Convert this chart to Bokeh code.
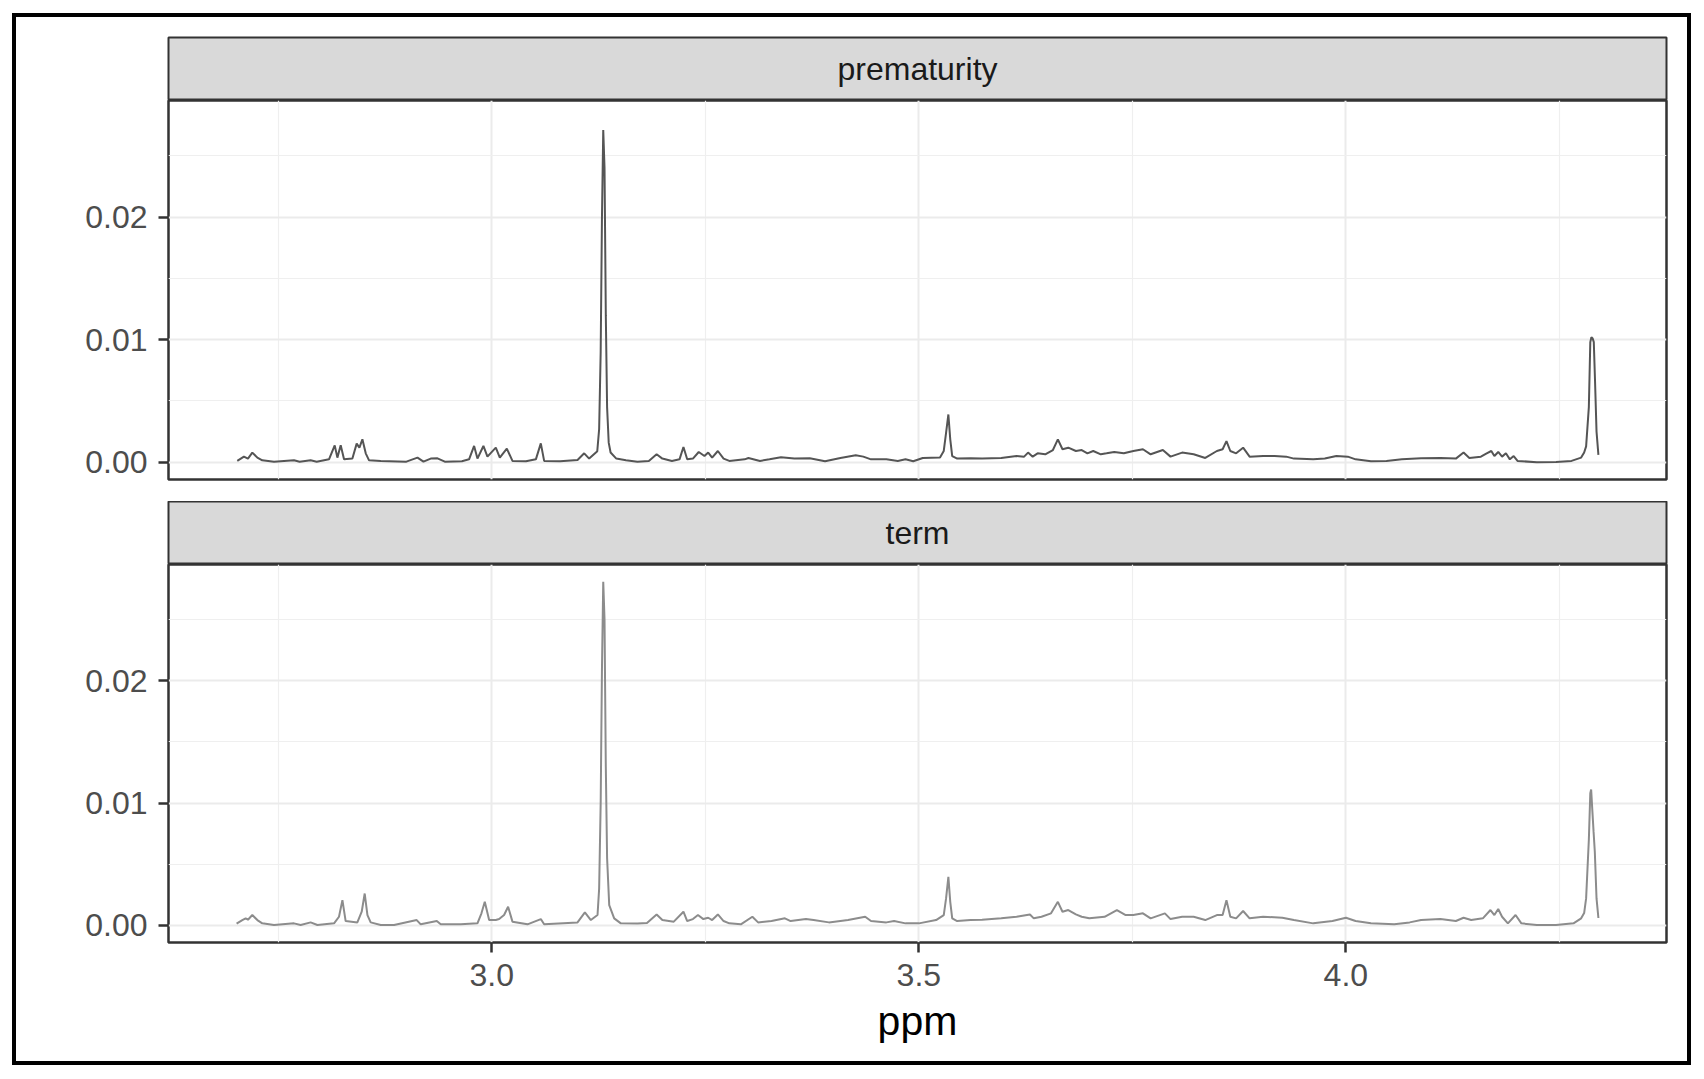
from bokeh.plotting import figure
from bokeh.layouts import column
from bokeh.models import Range1d, FixedTicker, NumeralTickFormatter
from bokeh.core.properties import value
from bokeh.embed import file_html
from bokeh.resources import INLINE

# ---------------- data ----------------
PANELS = ["prematurity", "term"]

PRE_PPM = [2.7020, 2.7098, 2.7145, 2.7196, 2.7255, 2.7313, 2.7450, 2.7684, 2.7750, 2.7879,
           2.7950, 2.8094, 2.8161, 2.8192, 2.8231, 2.8270, 2.8368, 2.8418, 2.8450, 2.8485,
           2.8524, 2.8563, 2.8700, 2.9000, 2.9130, 2.9200, 2.9285, 2.9364, 2.9450, 2.9650,
           2.9734, 2.9793, 2.9832, 2.9902, 2.9949, 3.0047, 3.0094, 3.0176, 3.0242, 3.0400,
           3.0516, 3.0574, 3.0613, 3.0800, 3.1004, 3.1082, 3.1140, 3.1219, 3.1235, 3.1257,
           3.1275, 3.1290, 3.1305, 3.1320, 3.1335, 3.1350, 3.1369, 3.1391, 3.1458, 3.1571,
           3.1705, 3.1839, 3.1930, 3.1997, 3.2109, 3.2198, 3.2244, 3.2288, 3.2355, 3.2423,
           3.2490, 3.2534, 3.2580, 3.2647, 3.2714, 3.2781, 3.2961, 3.3005, 3.3140, 3.3252,
           3.3386, 3.3543, 3.3723, 3.3902, 3.4082, 3.4261, 3.4350, 3.4440, 3.4620, 3.4754,
           3.4844, 3.4934, 3.5046, 3.5248, 3.5292, 3.5319, 3.5346, 3.5368, 3.5391, 3.5449,
           3.5606, 3.5741, 3.5965, 3.6144, 3.6233, 3.6279, 3.6333, 3.6391, 3.6480, 3.6570,
           3.6628, 3.6682, 3.6750, 3.6839, 3.6907, 3.6974, 3.7042, 3.7131, 3.7198, 3.7288,
           3.7400, 3.7512, 3.7624, 3.7714, 3.7857, 3.7947, 3.8083, 3.8218, 3.8354, 3.8490,
           3.8557, 3.8602, 3.8647, 3.8715, 3.8797, 3.8873, 3.9031, 3.9166, 3.9302, 3.9392,
           3.9618, 3.9753, 3.9889, 4.0023, 4.0114, 4.0294, 4.0475, 4.0656, 4.0881, 4.1107,
           4.1288, 4.1378, 4.1446, 4.1581, 4.1649, 4.1703, 4.1739, 4.1784, 4.1829, 4.1874,
           4.1920, 4.1965, 4.2010, 4.2236, 4.2461, 4.2642, 4.2755, 4.2790, 4.2813, 4.2845,
           4.2862, 4.2875, 4.2890, 4.2903, 4.2918, 4.2935, 4.2957]
PRE_VAL = [0.00011, 0.00046, 0.00030, 0.00079, 0.00038, 0.00016, 0.00005, 0.00016, 0.00005, 0.00016,
           0.00005, 0.00024, 0.00138, 0.00038, 0.00138, 0.00024, 0.00030, 0.00152, 0.00119, 0.00187,
           0.00073, 0.00016, 0.00011, 0.00005, 0.00038, 0.00005, 0.00030, 0.00032, 0.00005, 0.00008,
           0.00024, 0.00133, 0.00030, 0.00133, 0.00046, 0.00119, 0.00038, 0.00111, 0.00011, 0.00008,
           0.00024, 0.00154, 0.00011, 0.00008, 0.00019, 0.00073, 0.00030, 0.00079, 0.00090, 0.00270,
           0.00900, 0.02000, 0.02710, 0.02400, 0.01200, 0.00450, 0.00160, 0.00080, 0.00030, 0.00016,
           0.00005, 0.00011, 0.00065, 0.00030, 0.00011, 0.00024, 0.00125, 0.00024, 0.00030, 0.00084,
           0.00051, 0.00079, 0.00038, 0.00092, 0.00030, 0.00011, 0.00024, 0.00035, 0.00011, 0.00024,
           0.00041, 0.00030, 0.00033, 0.00008, 0.00035, 0.00057, 0.00046, 0.00024, 0.00024, 0.00011,
           0.00024, 0.00008, 0.00035, 0.00038, 0.00092, 0.00240, 0.00390, 0.00187, 0.00051, 0.00030,
           0.00033, 0.00030, 0.00035, 0.00051, 0.00046, 0.00079, 0.00046, 0.00073, 0.00065, 0.00100,
           0.00187, 0.00106, 0.00119, 0.00092, 0.00100, 0.00073, 0.00092, 0.00065, 0.00073, 0.00084,
           0.00073, 0.00092, 0.00106, 0.00065, 0.00100, 0.00046, 0.00079, 0.00065, 0.00035, 0.00092,
           0.00106, 0.00173, 0.00092, 0.00073, 0.00119, 0.00046, 0.00051, 0.00051, 0.00046, 0.00030,
           0.00024, 0.00030, 0.00051, 0.00046, 0.00024, 0.00008, 0.00011, 0.00024, 0.00033, 0.00035,
           0.00030, 0.00079, 0.00035, 0.00046, 0.00073, 0.00092, 0.00051, 0.00084, 0.00046, 0.00073,
           0.00024, 0.00051, 0.00011, 0.00000, 0.00003, 0.00011, 0.00038, 0.00080, 0.00130, 0.00450,
           0.00980, 0.01020, 0.01010, 0.00980, 0.00650, 0.00250, 0.00060]

TERM_PPM = [2.7012, 2.7079, 2.7118, 2.7145, 2.7196, 2.7255, 2.7313, 2.7450, 2.7684, 2.7762,
            2.7879, 2.7958, 2.8153, 2.8211, 2.8251, 2.8289, 2.8426, 2.8477, 2.8512, 2.8544,
            2.8582, 2.8700, 2.8856, 2.9121, 2.9168, 2.9356, 2.9402, 2.9637, 2.9832, 2.9879,
            2.9918, 2.9969, 3.0047, 3.0086, 3.0144, 3.0191, 3.0242, 3.0418, 3.0574, 3.0613,
            3.1004, 3.1090, 3.1160, 3.1238, 3.1257, 3.1275, 3.1290, 3.1305, 3.1320, 3.1335,
            3.1350, 3.1375, 3.1433, 3.1511, 3.1705, 3.1817, 3.1930, 3.1997, 3.2131, 3.2244,
            3.2288, 3.2355, 3.2414, 3.2477, 3.2534, 3.2580, 3.2647, 3.2714, 3.2781, 3.2916,
            3.3051, 3.3118, 3.3275, 3.3432, 3.3499, 3.3678, 3.3768, 3.3947, 3.4171, 3.4372,
            3.4440, 3.4620, 3.4710, 3.4844, 3.5001, 3.5202, 3.5292, 3.5319, 3.5346, 3.5368,
            3.5391, 3.5449, 3.5606, 3.5741, 3.5965, 3.6144, 3.6301, 3.6346, 3.6436, 3.6548,
            3.6628, 3.6682, 3.6750, 3.6839, 3.6907, 3.6996, 3.7175, 3.7319, 3.7422, 3.7512,
            3.7624, 3.7714, 3.7881, 3.7947, 3.8083, 3.8218, 3.8354, 3.8490, 3.8557, 3.8602,
            3.8647, 3.8715, 3.8797, 3.8873, 3.9031, 3.9256, 3.9392, 3.9618, 3.9843, 4.0001,
            4.0114, 4.0294, 4.0566, 4.0747, 4.0881, 4.1107, 4.1288, 4.1378, 4.1468, 4.1604,
            4.1693, 4.1739, 4.1784, 4.1829, 4.1897, 4.1987, 4.2055, 4.2236, 4.2461, 4.2665,
            4.2755, 4.2790, 4.2813, 4.2845, 4.2862, 4.2872, 4.2885, 4.2900, 4.2915, 4.2935,
            4.2957]
TERM_VAL = [0.00014, 0.00043, 0.00057, 0.00046, 0.00084, 0.00043, 0.00016, 0.00003, 0.00016, 0.00003,
            0.00024, 0.00003, 0.00016, 0.00070, 0.00206, 0.00035, 0.00024, 0.00111, 0.00260, 0.00084,
            0.00024, 0.00003, 0.00003, 0.00043, 0.00008, 0.00035, 0.00008, 0.00008, 0.00016, 0.00098,
            0.00192, 0.00043, 0.00043, 0.00051, 0.00084, 0.00152, 0.00030, 0.00008, 0.00051, 0.00008,
            0.00024, 0.00106, 0.00043, 0.00084, 0.00300, 0.01000, 0.02100, 0.02810, 0.02500, 0.01300,
            0.00550, 0.00165, 0.00057, 0.00016, 0.00014, 0.00019, 0.00089, 0.00043, 0.00030, 0.00111,
            0.00035, 0.00051, 0.00084, 0.00051, 0.00062, 0.00043, 0.00089, 0.00035, 0.00016, 0.00008,
            0.00070, 0.00024, 0.00035, 0.00057, 0.00035, 0.00051, 0.00043, 0.00024, 0.00043, 0.00070,
            0.00035, 0.00024, 0.00035, 0.00016, 0.00016, 0.00043, 0.00084, 0.00220, 0.00396, 0.00192,
            0.00057, 0.00035, 0.00043, 0.00046, 0.00057, 0.00070, 0.00089, 0.00057, 0.00070, 0.00098,
            0.00192, 0.00111, 0.00125, 0.00089, 0.00070, 0.00057, 0.00070, 0.00125, 0.00084, 0.00084,
            0.00098, 0.00057, 0.00098, 0.00051, 0.00070, 0.00070, 0.00043, 0.00084, 0.00084, 0.00206,
            0.00070, 0.00057, 0.00117, 0.00057, 0.00070, 0.00062, 0.00043, 0.00016, 0.00035, 0.00062,
            0.00035, 0.00016, 0.00008, 0.00024, 0.00043, 0.00051, 0.00035, 0.00062, 0.00043, 0.00057,
            0.00125, 0.00084, 0.00133, 0.00070, 0.00016, 0.00084, 0.00016, 0.00003, 0.00003, 0.00016,
            0.00057, 0.00100, 0.00220, 0.00700, 0.01080, 0.01110, 0.00950, 0.00770, 0.00600, 0.00220,
            0.00060]

X_TICKS = [3.0, 3.5, 4.0]
X_MINOR = [2.75, 3.25, 3.75, 4.25]
Y_TICKS = [0.0, 0.01, 0.02]
Y_MINOR = [0.005, 0.015, 0.025]
X_TITLE = "ppm"

# ---------------- ranges (ggplot-like 5% expansion, shared scales) ----------------
all_x = PRE_PPM + TERM_PPM
all_y = PRE_VAL + TERM_VAL
xr = max(all_x) - min(all_x)
yr = max(all_y) - min(all_y)
X0, X1 = min(all_x) - 0.05 * xr, max(all_x) + 0.05 * xr
Y0, Y1 = min(all_y) - 0.05 * yr, max(all_y) + 0.05 * yr

FONT = "Liberation Sans"
W = 1671
LEFT, RIGHT = 152, 21


def strip(label, height, top):
    s = figure(width=W, height=height, x_range=Range1d(X0, X1), y_range=Range1d(0, 1),
               output_backend="svg", toolbar_location=None,
               x_axis_location=None, y_axis_location=None, min_border=0)
    s.min_border_left = LEFT
    s.min_border_right = RIGHT
    s.min_border_top = top
    s.min_border_bottom = 0
    s.grid.visible = False
    s.background_fill_color = "#D9D9D9"
    s.border_fill_color = "white"
    s.outline_line_color = "#333333"
    s.outline_line_width = 2
    s.text(x=[(X0 + X1) / 2], y=[0.5], text=[label], text_align="center",
           text_baseline="middle", text_font=value(FONT), text_font_size="32px",
           text_color="#1A1A1A")
    return s


def panel(xs, ys, color, height, bottom, show_x):
    p = figure(width=W, height=height, x_range=Range1d(X0, X1), y_range=Range1d(Y0, Y1),
               output_backend="svg", toolbar_location=None, min_border=0,
               x_axis_location="below" if show_x else None)
    p.min_border_left = LEFT
    p.min_border_right = RIGHT
    p.min_border_top = 0
    p.min_border_bottom = bottom
    p.background_fill_color = "white"
    p.border_fill_color = "white"
    p.outline_line_color = "#333333"
    p.outline_line_width = 2.5

    xt = FixedTicker(ticks=X_TICKS, minor_ticks=X_MINOR)
    yt = FixedTicker(ticks=Y_TICKS, minor_ticks=Y_MINOR)
    p.xgrid.ticker = xt
    p.ygrid.ticker = yt
    for g in (p.xgrid, p.ygrid):
        g.grid_line_color = "#EBEBEB"
        g.grid_line_width = 2
        g.minor_grid_line_color = "#EFEFEF"
        g.minor_grid_line_width = 1.2

    axes = list(p.yaxis) + (list(p.xaxis) if show_x else [])
    for ax in axes:
        ax.axis_line_color = None
        ax.major_tick_line_color = "#333333"
        ax.major_tick_line_width = 2.5
        ax.major_tick_out = 10
        ax.major_tick_in = 0
        ax.minor_tick_out = 0
        ax.minor_tick_in = 0
        ax.major_label_text_font = FONT
        ax.major_label_text_font_size = "32px"
        ax.major_label_text_color = "#4D4D4D"
    p.yaxis.ticker = yt
    p.yaxis.formatter = NumeralTickFormatter(format="0.00")
    p.yaxis.major_label_standoff = 11
    if show_x:
        p.xaxis.ticker = xt
        p.xaxis.formatter = NumeralTickFormatter(format="0.0")
        p.xaxis.major_label_standoff = 11
        p.xaxis.axis_label = X_TITLE
        p.xaxis.axis_label_text_font = FONT
        p.xaxis.axis_label_text_font_size = "41px"
        p.xaxis.axis_label_text_font_style = "normal"
        p.xaxis.axis_label_text_color = "black"
        p.xaxis.axis_label_standoff = 9

    p.line(xs, ys, line_color=color, line_width=2)
    return p


s1 = strip(PANELS[0], 83, 20)
p1 = panel(PRE_PPM, PRE_VAL, "#555555", 401, 22, False)
s2 = strip(PANELS[1], 63, 0)
p2 = panel(TERM_PPM, TERM_VAL, "#8C8C8C", 497, 119, True)

layout = column(s1, p1, s2, p2, spacing=0,
                styles={"border": "4px solid black", "margin-left": "12px",
                        "margin-top": "13px"})

open("out.html", "w").write(file_html(layout, INLINE))
